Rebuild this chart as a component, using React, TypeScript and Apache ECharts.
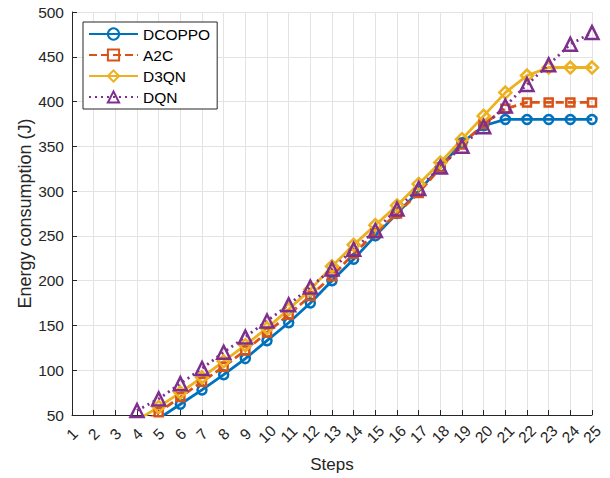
import React, { useEffect, useRef } from "react";
import * as echarts from "echarts";

const steps = Array.from({ length: 25 }, (_, i) => String(i + 1));
const yTicks = { min: 50, max: 500, interval: 50 };

const dcoppo = [null, null, null, 30, 46, 62, 78, 95, 113, 133, 153, 175, 200, 224, 250, 275, 300, 327, 354, 373, 380, 380, 380, 380, 380];
const a2c = [null, null, null, 36, 53, 70, 87, 104, 122, 142, 162, 183, 205, 230, 253, 275, 298, 326, 352, 375, 392, 399, 399, 399, 399];
const d3qn = [null, null, null, 44, 59, 75, 92, 110, 128, 147, 168, 190, 216, 240, 262, 284, 308, 332, 358, 384, 410, 429, 438, 438, 438];
const dqn = [null, null, null, 55, 68, 85, 102, 120, 137, 155, 173, 193, 213, 235, 256, 280, 303, 327, 350, 372, 395, 419, 441, 464, 477];

const seriesDefs = [
  { name: "DCOPPO", data: dcoppo, color: "#0072BD", type: "solid", symbol: "circle", size: 9 },
  { name: "A2C", data: a2c, color: "#D95319", type: [8, 4], symbol: "rect", size: 8 },
  { name: "D3QN", data: d3qn, color: "#EDB120", type: "solid", symbol: "diamond", size: 12 },
  { name: "DQN", data: dqn, color: "#7E2F8E", type: [2, 4], symbol: "triangle", size: 13 },
];

const FONT = "Liberation Sans, Arial, Helvetica, sans-serif";

export default function App() {
  const ref = useRef<HTMLDivElement>(null);
  useEffect(() => {
    document.body.style.margin = "0";
    if (!ref.current) return;
    const chart = echarts.init(ref.current, undefined, { renderer: "svg" });
    chart.setOption({
      animation: false,
      backgroundColor: "#ffffff",
      grid: { left: 72, right: 18, top: 12, bottom: 60 },
      legend: {
        orient: "vertical",
        left: 83,
        top: 22,
        itemWidth: 49,
        itemHeight: 14,
        itemGap: 5,
        padding: [4, 7, 4, 5],
        borderColor: "#262626",
        borderWidth: 1,
        borderRadius: 0,
        backgroundColor: "#ffffff",
        textStyle: { fontFamily: FONT, fontSize: 15.5, color: "#000" },
        data: seriesDefs.map((s) => s.name),
      },
      xAxis: {
        type: "category",
        data: steps,
        boundaryGap: false,
        name: "Steps",
        nameLocation: "middle",
        nameGap: 41,
        nameTextStyle: { fontFamily: FONT, fontSize: 17, color: "#262626" },
        axisLine: { show: true, lineStyle: { color: "#262626", width: 1 } },
        axisTick: { show: true, inside: true, length: 5, lineStyle: { color: "#262626" } },
        axisLabel: {
          rotate: 45,
          align: "center",
          verticalAlign: "middle",
          margin: 19,
          fontFamily: FONT,
          fontSize: 15.5,
          color: "#262626",
          interval: 0,
        },
        splitLine: { show: true, lineStyle: { color: "#e3e3e3", width: 1 } },
      },
      yAxis: {
        type: "value",
        min: yTicks.min,
        max: yTicks.max,
        interval: yTicks.interval,
        name: "Energy consumption (J)",
        nameLocation: "middle",
        nameGap: 38,
        nameMoveOverlap: false,
        nameTextStyle: { fontFamily: FONT, fontSize: 18, color: "#262626" },
        axisLine: { show: true, lineStyle: { color: "#262626", width: 1 } },
        axisTick: { show: true, inside: true, length: 5, lineStyle: { color: "#262626" } },
        axisLabel: { fontFamily: FONT, fontSize: 15.5, color: "#262626", margin: 8 },
        splitLine: { show: true, lineStyle: { color: "#e3e3e3", width: 1 } },
      },
      series: seriesDefs.map((s) => ({
        name: s.name,
        type: "line",
        data: s.data,
        clip: true,
        symbol: s.symbol,
        symbolSize: s.size,
        showAllSymbol: true,
        connectNulls: false,
        lineStyle: { color: s.color, width: 2.8, type: s.type },
        itemStyle: { color: "rgba(255,255,255,0)", borderColor: s.color, borderWidth: 2.5 },
        emphasis: { disabled: true },
      })),
    });
    return () => chart.dispose();
  }, []);
  return <div ref={ref} style={{ width: 610, height: 478 }} />;
}
